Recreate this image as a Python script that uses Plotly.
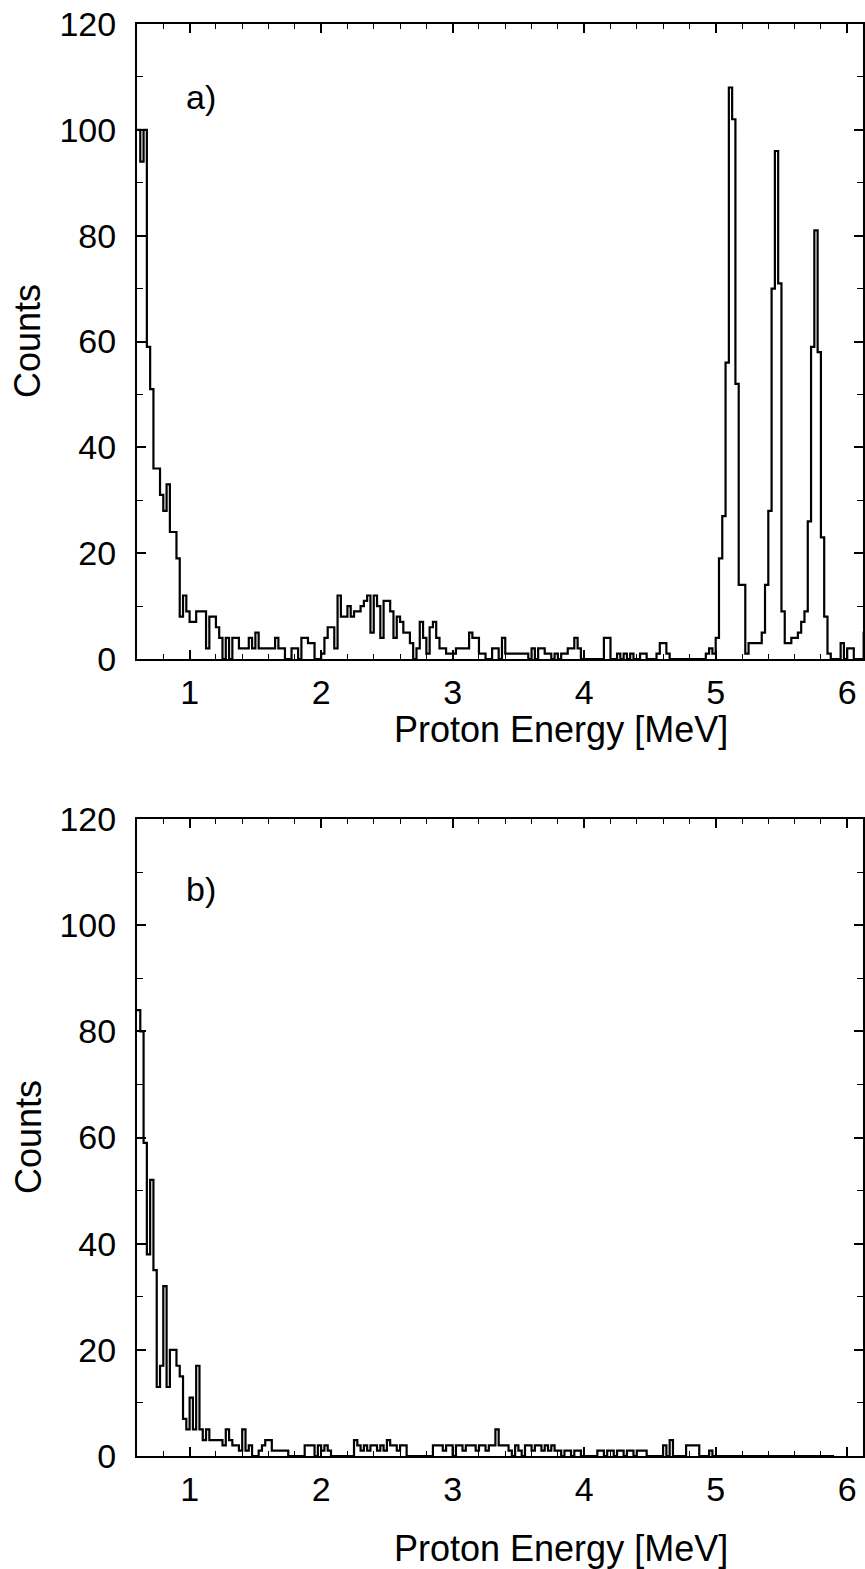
import numpy as np
import plotly.graph_objects as go

# Channel binning of the proton spectra
E_START = 0.6      # MeV, lower edge of first channel
BIN_WIDTH = 0.025  # MeV per channel

# a) spectrum, counts per channel
counts_a = [
    100, 94, 100, 59, 51, 36, 36, 31, 28, 33,
    24, 24, 19, 8, 12, 9, 7, 7, 9, 9,
    9, 2, 8, 8, 6, 4, 0, 4, 0, 4,
    4, 2, 2, 2, 4, 2, 5, 2, 2, 2,
    2, 2, 4, 2, 2, 0, 0, 2, 2, 0,
    4, 4, 3, 3, 0, 0, 1, 4, 6, 6,
    2, 12, 8, 8, 10, 8, 9, 9, 10, 11,
    12, 5, 12, 10, 4, 11, 11, 9, 4, 8,
    7, 5, 5, 3, 0, 2, 7, 4, 1, 6,
    7, 4, 2, 2, 1, 1, 1, 2, 2, 2,
    2, 5, 4, 4, 1, 1, 0, 0, 2, 2,
    0, 4, 1, 1, 1, 1, 1, 1, 1, 0,
    2, 0, 2, 2, 1, 1, 0, 1, 0, 1,
    1, 2, 2, 4, 2, 0, 0, 0, 0, 0,
    0, 0, 4, 4, 0, 0, 1, 0, 1, 0,
    1, 0, 0, 1, 1, 0, 0, 0, 1, 3,
    3, 1, 0, 0, 0, 0, 0, 0, 0, 0,
    0, 0, 0, 1, 2, 1, 4, 19, 27, 56,
    108, 102, 52, 14, 14, 1, 3, 3, 3, 3,
    5, 14, 28, 70, 96, 71, 9, 3, 3, 4,
    4, 5, 7, 9, 26, 59, 81, 58, 23, 8,
    1, 0, 0, 0, 3, 0, 2, 2, 0, 0,
    0, 5,
]

# b) spectrum, counts per channel
counts_b = [
    84, 80, 59, 38, 52, 35, 13, 17, 32, 13,
    20, 20, 17, 15, 7, 5, 11, 5, 17, 5,
    3, 5, 3, 3, 3, 3, 2, 5, 3, 2,
    2, 1, 5, 1, 2, 0, 0, 1, 2, 3,
    3, 1, 1, 1, 1, 1, 0, 0, 0, 0,
    0, 2, 2, 2, 0, 2, 1, 2, 1, 0,
    0, 0, 0, 0, 0, 0, 3, 2, 1, 2,
    1, 2, 2, 1, 2, 1, 3, 2, 2, 1,
    2, 2, 0, 0, 0, 0, 0, 0, 0, 0,
    2, 2, 2, 1, 2, 2, 0, 2, 2, 1,
    2, 2, 2, 1, 2, 2, 1, 2, 2, 5,
    2, 2, 2, 1, 0, 2, 1, 0, 2, 2,
    1, 2, 2, 1, 2, 1, 2, 1, 1, 0,
    1, 1, 0, 1, 1, 0, 0, 0, 0, 0,
    1, 1, 0, 1, 1, 0, 1, 1, 0, 1,
    1, 0, 1, 1, 1, 0, 0, 0, 0, 0,
    2, 0, 3, 0, 0, 0, 0, 2, 2, 2,
    2, 0, 0, 0, 1, 0, 0, 0, 0, 0,
    0, 0, 0, 0, 0, 0, 0, 0, 0, 0,
    0, 0, 0, 0, 0, 0, 0, 0, 0, 0,
    0, 0, 0, 0, 0, 0, 0, 0, 0, 0,
    0, 0,
]

x_tick_vals = [1, 2, 3, 4, 5, 6]
y_tick_vals = [0, 20, 40, 60, 80, 100, 120]
panel_labels = ["a)", "b)"]
x_title = "Proton Energy [MeV]"
y_title = "Counts"

X_RANGE = [0.6, 6.12]
Y_RANGE = [0, 120]

FONT = "Liberation Sans, Arial, Helvetica, sans-serif"
FS_TICK = 34
FS_TITLE = 36

# figure geometry (pixels)
W, H = 865, 1569
ML, MR, MT, MB = 137, 2, 24, 113
PW = W - ML - MR
PH = H - MT - MB


def px_x(px):
    return (px - ML) / PW


def px_y(py):
    return (H - MB - py) / PH


def step_xy(counts):
    c = np.asarray(counts, dtype=float)
    edges = E_START + BIN_WIDTH * np.arange(len(c) + 1)
    return edges, np.append(c, c[-1])


fig = go.Figure()
for k, counts in enumerate([counts_a, counts_b]):
    xs, ys = step_xy(counts)
    sfx = "" if k == 0 else "2"
    fig.add_trace(go.Scatter(
        x=xs, y=ys, mode="lines", line=dict(shape="hv", color="black", width=2.2),
        xaxis="x" + sfx, yaxis="y" + sfx, showlegend=False, hoverinfo="skip",
    ))

top_dom = [px_y(659), 1.0]
bot_dom = [0.0, px_y(819)]


def xaxis_cfg(anchor):
    return dict(
        domain=[0, 1], anchor=anchor, range=X_RANGE,
        tickmode="array", tickvals=x_tick_vals, ticks="inside", ticklen=9, tickwidth=1.5,
        tickcolor="black", showline=True, linecolor="black", linewidth=2,
        mirror="allticks", showgrid=False, zeroline=False,
        minor=dict(tick0=0, dtick=0.2, ticks="inside", ticklen=5, tickwidth=1.2, tickcolor="black", showgrid=False),
        tickfont=dict(family=FONT, size=FS_TICK, color="black"), ticklabelstandoff=2,
    )


def yaxis_cfg(anchor, dom):
    return dict(
        domain=dom, anchor=anchor, range=Y_RANGE,
        tickmode="array", tickvals=y_tick_vals, ticks="inside", ticklen=9, tickwidth=1.5,
        tickcolor="black", showline=True, linecolor="black", linewidth=2,
        mirror="allticks", showgrid=False, zeroline=False,
        minor=dict(tick0=0, dtick=10, ticks="inside", ticklen=6, tickwidth=1.2, tickcolor="black", showgrid=False),
        tickfont=dict(family=FONT, size=FS_TICK, color="black"), ticklabelstandoff=12,
    )


annotations = []
for lbl, (ty, cy, ly) in zip(panel_labels, [(729, 341, 97), (1549, 1137, 889)]):
    annotations.append(dict(text=x_title, x=px_x(561), y=px_y(ty), xref="paper", yref="paper",
                            showarrow=False, xanchor="center", yanchor="middle",
                            font=dict(family=FONT, size=FS_TITLE, color="black")))
    annotations.append(dict(text=y_title, x=px_x(28), y=px_y(cy), xref="paper", yref="paper",
                            showarrow=False, xanchor="center", yanchor="middle", textangle=-90,
                            font=dict(family=FONT, size=FS_TITLE, color="black")))
    annotations.append(dict(text=lbl, x=px_x(201), y=px_y(ly), xref="paper", yref="paper",
                            showarrow=False, xanchor="center", yanchor="middle",
                            font=dict(family=FONT, size=FS_TICK, color="black")))

fig.update_layout(
    width=W, height=H, margin=dict(l=ML, r=MR, t=MT, b=MB, autoexpand=False),
    paper_bgcolor="white", plot_bgcolor="white",
    xaxis=xaxis_cfg("y"), yaxis=yaxis_cfg("x", top_dom),
    xaxis2=xaxis_cfg("y2"), yaxis2=yaxis_cfg("x2", bot_dom),
    annotations=annotations,
)

fig.write_html("out.html")
